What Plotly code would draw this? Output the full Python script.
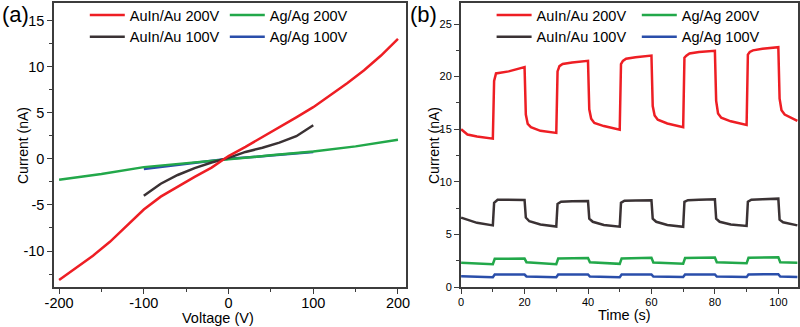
import plotly.graph_objects as go

# ---- panel (a): I-V curves ----
v_red = [-200, -180, -160, -140, -120, -100, -80, -60, -40, -20, 0, 20, 40, 60, 80, 100, 120, 140, 160, 180, 200]
i_red = [-13.15, -11.8, -10.5, -9.0, -7.3, -5.5, -4.1, -3.0, -1.95, -0.95, 0.3, 1.3, 2.35, 3.4, 4.5, 5.6, 6.9, 8.2, 9.6, 11.2, 13.0]
v_black = [-100, -80, -60, -40, -20, 0, 20, 40, 60, 80, 100]
i_black = [-4.0, -2.7, -1.75, -1.0, -0.4, 0.1, 0.75, 1.2, 1.75, 2.45, 3.65]
v_green = [-200, -150, -100, -50, 0, 50, 100, 150, 200]
i_green = [-2.28, -1.65, -0.9, -0.45, 0.0, 0.38, 0.8, 1.35, 2.07]
v_blue = [-100, -50, 0, 50, 100]
i_blue = [-1.1, -0.55, 0.0, 0.35, 0.75]
v_ticks = [-200, -100, 0, 100, 200]
i_ticks = [-10, -5, 0, 5, 10, 15]

# ---- panel (b): on/off response ----
t_red = [0, 2, 5, 10, 10.4, 11, 15, 20, 20.4, 21, 22, 25, 30, 30.4, 31, 32, 35, 40, 40.4, 41, 42, 45,
         50, 50.4, 51, 52, 55, 60, 60.4, 61, 62, 65, 70, 70.4, 71, 72, 75, 80, 80.4, 81, 82, 85,
         90, 90.4, 91, 92, 95, 100, 100.4, 101, 102, 106]
c_red = [15.0, 14.5, 14.3, 14.1, 19.6, 20.3, 20.5, 20.9, 16.4, 15.5, 15.2, 14.85, 14.65, 20.5, 21.0, 21.2, 21.35, 21.5, 16.9, 16.0, 15.6, 15.3,
         14.95, 21.2, 21.5, 21.7, 21.85, 22.0, 17.2, 16.3, 15.9, 15.55, 15.2, 21.8, 22.0, 22.2, 22.35, 22.45, 17.7, 16.5, 16.1, 15.75,
         15.4, 22.1, 22.35, 22.5, 22.65, 22.8, 17.9, 16.8, 16.4, 15.8]
t_black = [0, 5, 10, 10.4, 11.5, 15, 20, 20.4, 21.5, 25, 30, 30.4, 31.5, 35, 40, 40.4, 41.5, 45, 50, 50.4, 51.5, 55,
           60, 60.4, 61.5, 65, 70, 70.4, 71.5, 75, 80, 80.4, 81.5, 85, 90, 90.4, 91.5, 95, 100, 100.4, 101.5, 106]
c_black = [6.6, 6.1, 5.86, 8.0, 8.3, 8.3, 8.28, 6.6, 6.25, 5.95, 5.75, 7.9, 8.1, 8.15, 8.18, 6.5, 6.2, 5.9, 5.73, 8.0, 8.2, 8.22,
           8.25, 6.5, 6.2, 5.9, 5.72, 8.1, 8.25, 8.3, 8.34, 6.5, 6.2, 5.95, 5.8, 8.1, 8.3, 8.35, 8.4, 6.4, 6.15, 5.86]
t_green = [0, 10, 10.6, 20, 20.6, 30, 30.6, 40, 40.6, 50, 50.6, 60, 60.6, 70, 70.6, 80, 80.6, 90, 90.6, 100, 100.6, 106]
c_green = [2.3, 2.17, 2.68, 2.7, 2.36, 2.17, 2.7, 2.75, 2.35, 2.2, 2.72, 2.78, 2.33, 2.22, 2.75, 2.8, 2.35, 2.25, 2.78, 2.82, 2.35, 2.3]
t_blue = t_green
c_blue = [1.02, 0.92, 1.18, 1.18, 1.0, 0.92, 1.18, 1.2, 1.0, 0.93, 1.18, 1.2, 1.0, 0.94, 1.18, 1.2, 1.0, 0.94, 1.2, 1.22, 1.0, 0.95]

RED = "rgb(238,30,36)"
BLACK = "rgb(58,50,52)"
GREEN = "rgb(34,168,74)"
BLUE = "rgb(42,78,170)"
FONT = "Liberation Sans, Arial, sans-serif"

fig = go.Figure()


def add(x, y, name, color, xa, ya, leg):
    fig.add_trace(go.Scatter(x=x, y=y, name=name, mode="lines",
                             line=dict(color=color, width=2.5),
                             xaxis=xa, yaxis=ya, legend=leg))


# draw order: blue under green, red on top; legends are reversed
add(v_blue, i_blue, "Ag/Ag 100V", BLUE, "x", "y", "legend2")
add(v_green, i_green, "Ag/Ag 200V", GREEN, "x", "y", "legend2")
add(v_black, i_black, "AuIn/Au 100V", BLACK, "x", "y", "legend")
add(v_red, i_red, "AuIn/Au 200V", RED, "x", "y", "legend")
add(t_blue, c_blue, "Ag/Ag 100V", BLUE, "x2", "y2", "legend4")
add(t_green, c_green, "Ag/Ag 200V", GREEN, "x2", "y2", "legend4")
add(t_black, c_black, "AuIn/Au 100V", BLACK, "x2", "y2", "legend3")
add(t_red, c_red, "AuIn/Au 200V", RED, "x2", "y2", "legend3")

axcol = "#3c3c3c"
common = dict(showline=True, linecolor=axcol, linewidth=1.5, mirror=True, ticks="outside",
              ticklen=5, tickwidth=1.2, tickcolor=axcol, showgrid=False, zeroline=False,
              automargin=False)

fig.update_layout(
    width=800, height=327,
    margin=dict(l=0, r=0, t=3, b=40, autoexpand=False),
    plot_bgcolor="white", paper_bgcolor="white",
    font=dict(family=FONT, color="black"),
    xaxis=dict(domain=[0.0675, 0.507], range=[-206, 209], tickvals=v_ticks,
               ticktext=[str(v) for v in v_ticks],
               minor=dict(dtick=50, ticks="outside", ticklen=3, tickcolor=axcol),
               tickfont=dict(size=14.5), ticklabelstandoff=-3, **common),
    yaxis=dict(domain=[0, 1], range=[-13.9, 16.9], tickvals=i_ticks,
               ticktext=[str(v) for v in i_ticks],
               minor=dict(dtick=2.5, ticks="outside", ticklen=3, tickcolor=axcol),
               tickfont=dict(size=14.5), **common),
    xaxis2=dict(domain=[0.576, 0.9975], range=[-0.1, 106.2], anchor="y2", dtick=20,
                minor=dict(dtick=10, ticks="outside", ticklen=3, tickcolor=axcol),
                tickfont=dict(size=11), ticklabelstandoff=-1, **common),
    yaxis2=dict(domain=[0, 1], range=[0, 27], anchor="x2", dtick=5,
                minor=dict(dtick=2.5, ticks="outside", ticklen=3, tickcolor=axcol),
                tickfont=dict(size=11), **common),
)

leg = dict(orientation="v", xanchor="left", yanchor="top", bgcolor="rgba(0,0,0,0)",
           font=dict(size=14.5), traceorder="reversed", itemwidth=35, tracegroupgap=0)
fig.update_layout(
    legend=dict(x=0.106, y=1.014, **leg),
    legend2=dict(x=0.281, y=1.014, **leg),
    legend3=dict(x=0.6145, y=1.014, **leg),
    legend4=dict(x=0.796, y=1.014, **leg),
)

annots = [
    dict(text="(a)", x=0, y=15, xanchor="left", size=22),
    dict(text="(b)", x=408, y=15, xanchor="left", size=22),
    dict(text="Voltage (V)", x=218, y=317.5, xanchor="center", size=14.5),
    dict(text="Time (s)", x=624, y=315, xanchor="center", size=14.5),
]
for a in annots:
    fig.add_annotation(text=a["text"], xref="paper", yref="paper",
                       x=a["x"] / 800, y=1 - (a["y"] - 3) / 284, xanchor=a["xanchor"], yanchor="middle",
                       showarrow=False, font=dict(size=a["size"], family=FONT, color="black"))
for xc in [23, 434]:
    fig.add_annotation(text="Current (nA)", xref="paper", yref="paper",
                       x=xc / 800, y=1 - (146 - 3) / 284, textangle=-90, showarrow=False,
                       xanchor="center", yanchor="middle",
                       font=dict(size=14, family=FONT, color="black"))

fig.write_html("out.html", config={"displayModeBar": False},
               post_script="document.body.style.margin='0';")
